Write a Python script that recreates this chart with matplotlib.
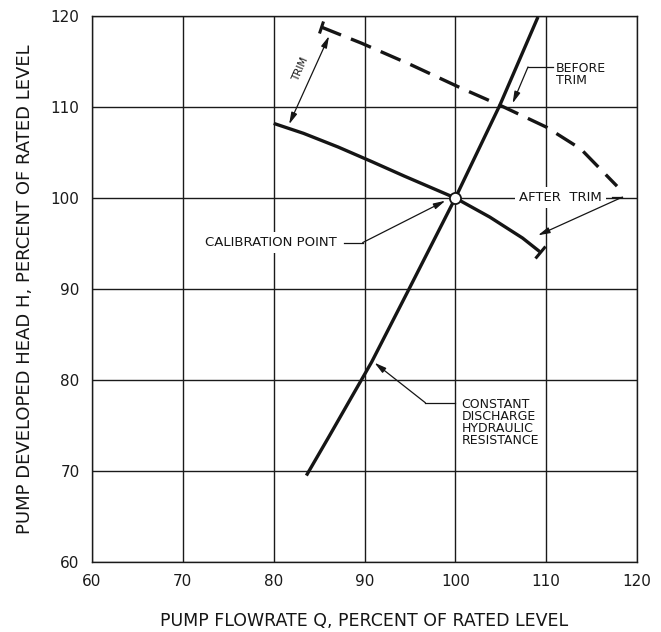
import matplotlib
matplotlib.use("Agg")
import matplotlib.pyplot as plt
from matplotlib.markers import MarkerStyle
from matplotlib.transforms import Affine2D

# ---- data ----
before_q = [85.2, 89.7, 95.2, 100.8, 104.9, 110.0, 113.8, 117.8]
before_h = [118.8, 117.0, 114.6, 112.0, 110.2, 107.8, 105.4, 101.3]

after_q = [80.0, 83.3, 87.1, 90.8, 94.4, 100.0, 103.8, 107.4, 109.3]
after_h = [108.2, 107.1, 105.6, 104.0, 102.4, 100.0, 97.9, 95.6, 94.1]

resist_q = [83.6, 86.1, 90.8, 94.7, 100.0, 104.9, 109.1]
resist_h = [69.5, 73.8, 82.0, 89.6, 100.0, 110.2, 119.9]

calib_q = [100.0]
calib_h = [100.0]

x_ticks = [60, 70, 80, 90, 100, 110, 120]
y_ticks = [60, 70, 80, 90, 100, 110, 120]

x_label = "PUMP FLOWRATE Q, PERCENT OF RATED LEVEL"
y_label = "PUMP DEVELOPED HEAD H, PERCENT OF RATED LEVEL"

# ---- figure ----
plt.rcParams['font.family'] = ['DejaVu Sans']
fig = plt.figure(figsize=(6.61, 6.32), dpi=100)
ax = fig.add_axes([92/661, 1-562/632, (637-92)/661, (562-16)/632])
ax.set_xlim(60, 120)
ax.set_ylim(60, 120)
ax.set_xticks(x_ticks)
ax.set_yticks(y_ticks)
ax.tick_params(length=0, labelsize=11, pad=9, colors='#1a1a1a')
ax.grid(True, color='#1a1a1a', lw=1.0)
ax.set_axisbelow(True)
for s in ax.spines.values():
    s.set_color('#1a1a1a')
    s.set_linewidth(1.0)

ink = '#151515'
ax.plot(before_q, before_h, color=ink, lw=2.4, dashes=(6.5, 3.2), zorder=3)
ax.plot(after_q, after_h, color=ink, lw=2.4, zorder=3, solid_capstyle='butt',
        solid_joinstyle='round')
ax.plot(resist_q, resist_h, color=ink, lw=2.4, zorder=3, solid_capstyle='butt',
        solid_joinstyle='round')

# end ticks
ax.plot([after_q[-1]], [after_h[-1]], ls='none', color=ink,
        marker=MarkerStyle('|', transform=Affine2D().rotate_deg(-38)),
        markersize=11, markeredgewidth=2.2, zorder=3)
ax.plot([before_q[0]], [before_h[0]], ls='none', color=ink,
        marker=MarkerStyle('|', transform=Affine2D().rotate_deg(-20)),
        markersize=9, markeredgewidth=2.2, zorder=3)

# calibration point
ax.plot(calib_q, calib_h, ls='none', marker='o', markersize=8,
        markerfacecolor='white', markeredgecolor=ink, markeredgewidth=1.3, zorder=5)

tfs = 9
arrow = dict(arrowstyle='-|>,head_length=0.7,head_width=0.18', color=ink, lw=0.9,
             shrinkA=0, shrinkB=0)
arrow2 = dict(arrowstyle='<|-|>,head_length=0.7,head_width=0.18', color=ink, lw=0.9,
              shrinkA=0, shrinkB=0)
wbox = dict(boxstyle='square,pad=0.3', fc='white', ec='none')

# TRIM
ax.annotate('', xy=(86.1, 117.8), xytext=(81.7, 108.1), arrowprops=arrow2, zorder=4)
ax.text(83.0, 114.2, 'TRIM', rotation=66, fontsize=7.5, ha='center', va='center',
        color=ink, zorder=4)

# BEFORE TRIM
ax.text(111.1, 115.0, 'BEFORE\nTRIM', fontsize=tfs, ha='left', va='top',
        linespacing=0.9, color=ink, bbox=dict(boxstyle='square,pad=0.15', fc='white', ec='none'),
        zorder=4)
ax.plot([110.8, 108.0], [114.4, 114.4], color=ink, lw=0.9, zorder=4)
ax.annotate('', xy=(106.3, 110.4), xytext=(108.0, 114.4), arrowprops=arrow, zorder=4)

# AFTER TRIM
ax.text(111.6, 100.1, 'AFTER  TRIM', fontsize=9.5, ha='center', va='center',
        color=ink, bbox=wbox, zorder=4)
ax.plot([117.2, 118.4], [100.1, 100.1], color=ink, lw=0.9, zorder=4)
ax.annotate('', xy=(109.1, 95.9), xytext=(118.4, 100.1), arrowprops=arrow, zorder=4)

# CALIBRATION POINT
ax.text(86.9, 95.1, 'CALIBRATION POINT', fontsize=9.5, ha='right', va='center',
        color=ink, bbox=wbox, zorder=4)
ax.plot([87.7, 89.8], [95.1, 95.1], color=ink, lw=0.9, zorder=4)
ax.annotate('', xy=(98.9, 99.7), xytext=(89.8, 95.1), arrowprops=arrow, zorder=4)

# CONSTANT DISCHARGE HYDRAULIC RESISTANCE
ax.text(100.7, 78.0, 'CONSTANT\nDISCHARGE\nHYDRAULIC\nRESISTANCE', fontsize=tfs,
        ha='left', va='top', linespacing=0.9, color=ink, bbox=wbox, zorder=4)
ax.plot([100.0, 96.7], [77.5, 77.5], color=ink, lw=0.9, zorder=4)
ax.annotate('', xy=(91.1, 81.9), xytext=(96.7, 77.5), arrowprops=arrow, zorder=4)

ax.set_xlabel(x_label, fontsize=12.5, labelpad=16, color=ink)
ax.set_ylabel(y_label, fontsize=13, labelpad=12, color=ink)

fig.savefig('out.png', dpi=100)
